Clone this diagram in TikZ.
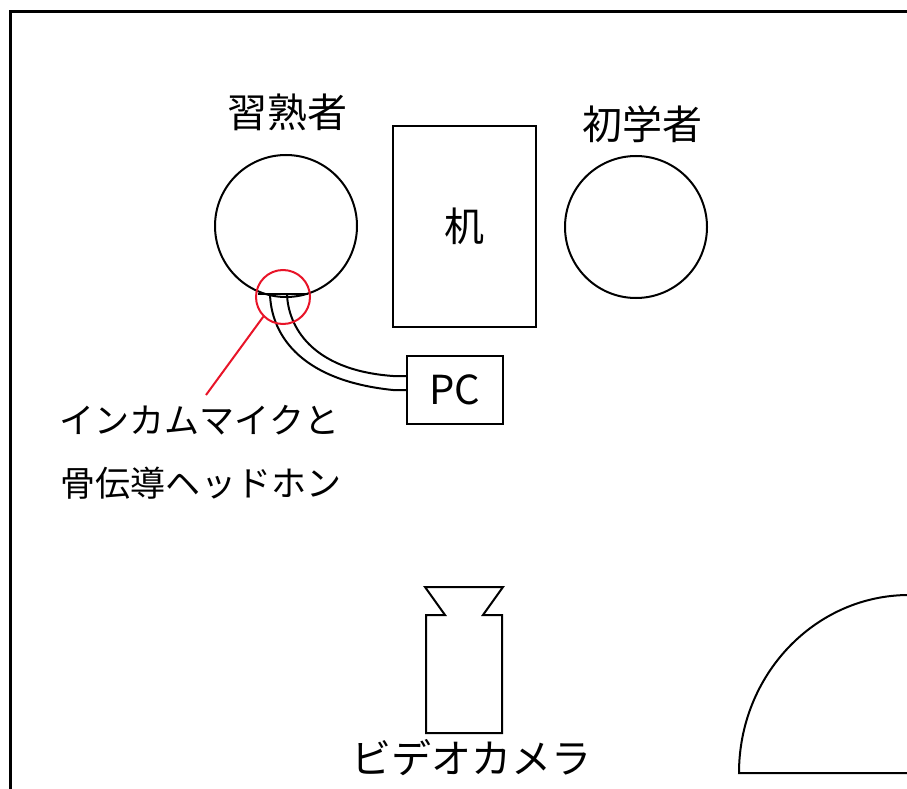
\documentclass[tikz,border=0pt]{standalone}
\usepackage{fontspec}
\setmainfont{Noto Sans CJK JP}
\definecolor{micred}{RGB}{232,20,40}

\tikzset{every loop/.style={}}

\begin{document}
\begin{tikzpicture}[x=1bp,y=-1bp,line width=2bp,
  person/.style={draw,circle,minimum size=142bp,inner sep=0pt},
  lbl/.style={font=\fontsize{40bp}{44bp}\selectfont,inner sep=0pt},
  note/.style={font=\fontsize{35bp}{40bp}\selectfont,inner sep=0pt}]
  \useasboundingbox (0,0) rectangle (907,789);
  \draw [line width=3bp] (10.5,789) -- (10.5,12) -- (907,12);
  \node [person] (expert) at (286,226) {};
  \node [person] (novice) at (636,227) {};
  \node [lbl] (expertlbl) at (287.5,112) {習熟者};
  \node [lbl] (novicelbl) at (642,124) {初学者};
  \node [lbl,draw,minimum width=143bp,minimum height=201bp] (desk) at (464.5,226.5) {机};
  \node [lbl,draw,minimum width=96bp,minimum height=68bp] (pc) at (455,390) {PC};
  \coordinate (barL) at (258,294);
  \coordinate (barR) at (308,294);
  \coordinate (cableA) at (270,294);
  \coordinate (cableB) at (287,294);
  \coordinate (pcA) at (pc.west |- 0,376);
  \draw (barL) -- (barR);
  \draw (cableA) .. controls (271,330) and (295,380) .. (393,390) -- (pc.west);
  \draw (cableB) .. controls (288,325) and (310,370) .. (393,376) -- (pcA);
  \node [draw=micred,circle,minimum size=54bp,inner sep=0pt] (mic) at (283,297) {};
  \coordinate (tip) at (206,395);
  \draw [micred] (mic.south west) -- (tip);
  \node [note] (note1) at (199.5,420) {インカムマイクと};
  \node [note] (note2) at (201,483) {骨伝導ヘッドホン};
  \draw (425,587) -- (503,587) -- (483,615) -- (502,615) -- (502,733) -- (426,733) -- (426,615) -- (445,615) -- cycle;
  \node [lbl] (cameralbl) at (471,758) {ビデオカメラ};
  \draw (739,773) arc [start angle=180,end angle=360,x radius=170,y radius=178] -- cycle;
\end{tikzpicture}
\end{document}
